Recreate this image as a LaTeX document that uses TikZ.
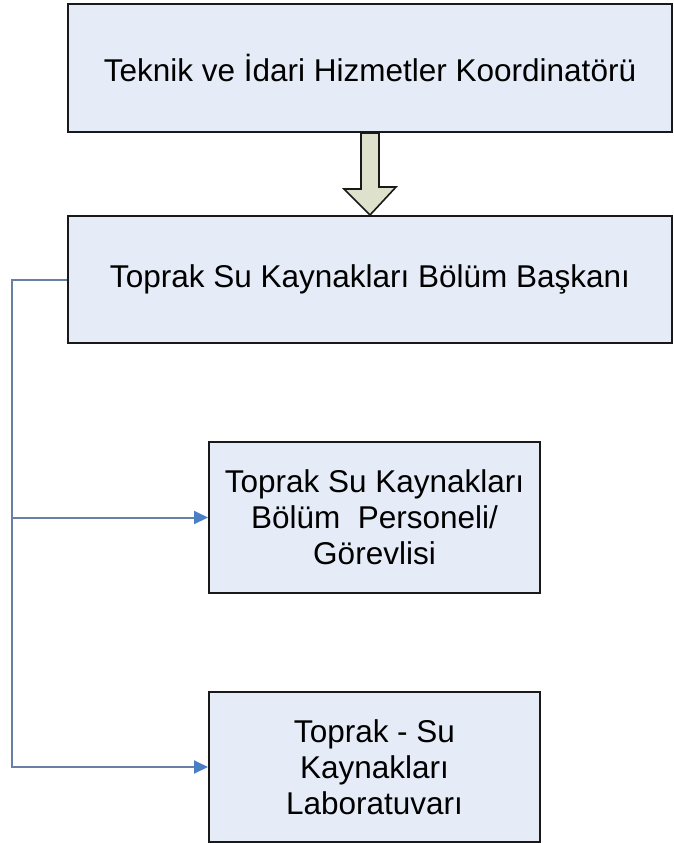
\documentclass[tikz,border=0pt]{standalone}
\usepackage{fontspec}
\setmainfont{Liberation Sans}
\usepackage{tikz}
\usetikzlibrary{calc,positioning,arrows.meta}
\definecolor{boxfill}{RGB}{230,236,247}
\definecolor{arrowfill}{RGB}{222,226,204}
\definecolor{linkline}{RGB}{105,128,165}
\definecolor{linkhead}{RGB}{74,126,197}

\begin{document}
\begin{tikzpicture}[x=1pt,y=-1pt,
        unit/.style={draw=black!90,line width=2pt,fill=boxfill,inner sep=0pt,align=center,
            font=\fontsize{31.5}{36}\selectfont},
        link/.style={draw=linkline,line width=2pt,-{Triangle[length=14pt,width=13pt,color=linkhead]}},
        bigarrow/.style={draw=black!90,line width=1.6pt,fill=arrowfill,line join=miter}]
        \useasboundingbox (0,0) rectangle (673,843);
        \node[unit,minimum width=604pt,minimum height=128pt] (koord) at (370,68) {Teknik ve İdari Hizmetler Koordinatörü};
        \node[unit,minimum width=604pt,minimum height=127pt] (baskan) at (370,279.5) {Toprak Su Kaynakları Bölüm Başkanı};
        \node[unit,minimum width=331pt,minimum height=151pt] (personel) at (374.5,517.5) {Toprak Su Kaynakları\\Bölüm~ Personeli/\\Görevlisi};
        \node[unit,minimum width=331pt,minimum height=150pt] (lab) at (374.5,767) {Toprak - Su\\Kaynakları\\Laboratuvarı};
        \draw[bigarrow] ($(koord.south)+(-9,0)$) -- ++(0,56) -- ++(-17,0) -- (baskan.north)
            -- ++(26,-28) -- ++(-17,0) -- ($(koord.south)+(9,0)$) -- cycle;
        \coordinate (bus) at ($(baskan.west)+(-55,0)$);
        \draw[link] (baskan.west) -- (bus) |- (personel.west);
        \draw[link] (bus) |- (lab.west);
\end{tikzpicture}
\end{document}
